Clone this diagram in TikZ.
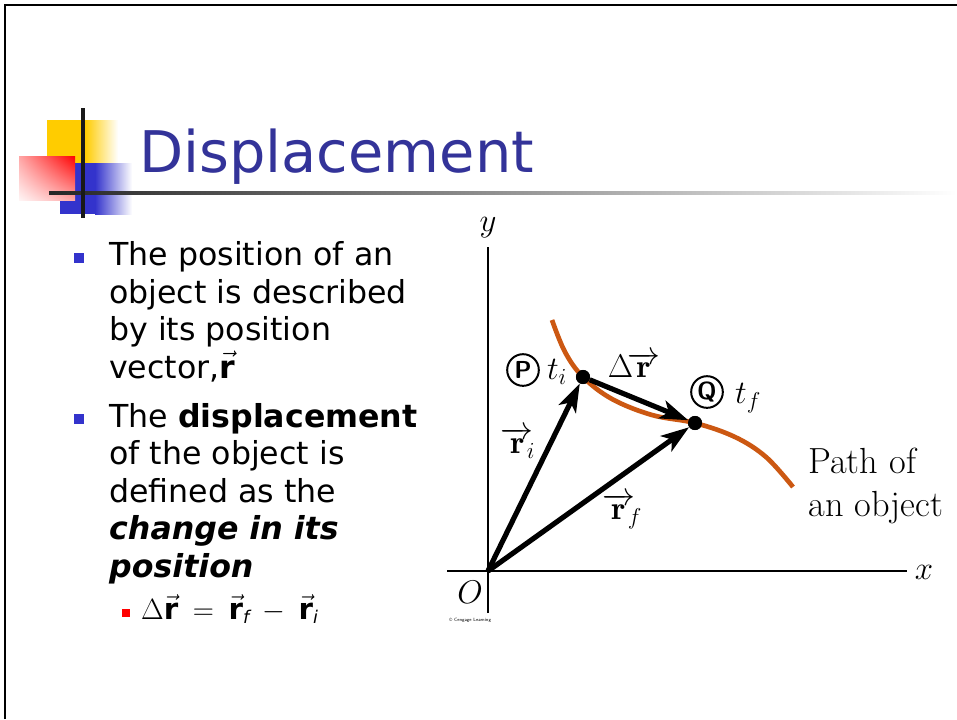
\documentclass[tikz,border=0pt]{standalone}
\usepackage{fix-cm}
\usepackage{fontspec}
\usepackage{xcolor}
\usepackage{tikz}
\usetikzlibrary{arrows.meta,positioning,calc,shadings}
\newfontfamily\slidefont{DejaVu Sans}
\definecolor{titleblue}{RGB}{51,51,153}
\definecolor{bulletblue}{RGB}{51,51,204}
\definecolor{sqyellow}{RGB}{255,204,0}
\definecolor{pathorange}{RGB}{204,88,18}

\begin{document}
\begin{tikzpicture}[
  x=0.03cm, y=-0.03cm,
  txt/.style={font=\slidefont\fontsize{27}{32}\selectfont, align=left, inner sep=0pt, anchor=base west},
  lbl/.style={font=\fontsize{28}{32}\selectfont, inner sep=1pt},
  circ/.style={draw, circle, line width=1.7pt, minimum size=27pt, inner sep=0pt, font=\sffamily\bfseries\fontsize{21}{22}\selectfont},
  dot/.style={circle, fill=black, minimum size=12pt, inner sep=0pt},
  vec/.style={-{Stealth[length=24pt, width=16pt, inset=6pt]}, line width=4.4pt},
  axis/.style={line width=2.4pt}
]
\useasboundingbox (0,0) rectangle (957,719);
\fill[white] (0,0) rectangle (957,719);
% slide frame
\draw[line width=1.8pt] (5,719) -- (5,5) -- (957,5);

% title decoration
\fill[sqyellow] (47,120) rectangle (85,163);
\shade[left color=sqyellow, right color=white] (85,120) rectangle (118,163);
\fill[bulletblue] (60,163) rectangle (95,214);
\shade[left color=bulletblue, right color=white] (95,163) rectangle (132,214);
\shade[upper right=red, upper left=red!35, lower right=red!35, lower left=red!4] (19,156) rectangle (75,200);
\shade[left color=black!85, right color=white] (49,191.5) rectangle (957,194.5);
\draw[line width=2.6pt, black!90] (83,108) -- (83,218);
\node[font=\slidefont\fontsize{49}{52}\selectfont, text=titleblue, inner sep=0pt, anchor=base west] (title) at (139,172) {Displacement};

% bullets (node base = last line)
\fill[bulletblue] (74,253) rectangle (84,263);
\node[txt] (b1) at (109,378) {The position of an\\object is described\\by its position\\vector,$\vec{\textbf{r}}$};
\fill[bulletblue] (74,414) rectangle (84,424);
\node[txt] (b2) at (109,577) {The \textbf{displacement}\\of the object is\\defined as the\\\textbf{\textit{change in its}}\\\textbf{\textit{position}}};
\fill[red] (122,609) rectangle (130,617);
\node[txt, font=\slidefont\fontsize{25}{30}\selectfont] (eq) at (141,619) {$\Delta\vec{\textbf{r}}\:=\:\vec{\textbf{r}}_{\mbox{\fontsize{15}{15}\selectfont\itshape f}}\:-\:\vec{\textbf{r}}_{\mbox{\fontsize{15}{15}\selectfont\itshape i}}$};

% diagram
\coordinate (O) at (488,571);
\coordinate (ytop) at (488,247);
\coordinate (ybot) at (488,613);
\coordinate (xl) at (447,571);
\coordinate (xr) at (907,571);
\draw[axis] (ybot) -- (ytop);
\draw[axis] (xl) -- (xr);
\node[lbl] (ylab) at (488,228) {$y$};
\node[lbl] (xlab) at (924,572) {$x$};
\node[lbl] (olab) at (470,592) {$O$};
\node[font=\sffamily\fontsize{4}{5}\selectfont, anchor=west, inner sep=0pt] (copy) at (449,620) {\textcopyright\ Cengage Learning};

\node[dot] (P) at (583,377) {};
\node[dot] (Q) at (695,423) {};
\draw[pathorange, line width=4pt] plot[smooth, tension=0.6] coordinates {(552,320) (565,352) (P.center) (612,399) (652,415) (Q.center) (735,437) (766,457) (793,487)};
\draw[vec] (O) -- (P);
\draw[vec] (O) -- (Q);
\draw[vec] (P) -- (Q);
\node[dot] at (P) {};
\node[dot] at (Q) {};

\node[circ] (pl) at (523,370) {P};
\node[lbl] (ti) at (557,372) {$t_i$};
\node[circ] (ql) at (707,392) {Q};
\node[lbl] (tf) at (748,398) {$t_f$};
\node[lbl] (dr) at (634,365) {$\Delta\kern-5pt\overrightarrow{\mathbf r}$};
\node[lbl] (ri) at (518,443) {$\overrightarrow{\mathbf r}\kern-6pt{}_i$};
\node[lbl] (rf) at (622,511) {$\overrightarrow{\mathbf r}\kern-6pt{}_f$};
\node[lbl, font=\fontsize{31}{37}\selectfont, align=left, anchor=west] (path) at (807,486) {Path of\\an object};
\end{tikzpicture}
\end{document}
